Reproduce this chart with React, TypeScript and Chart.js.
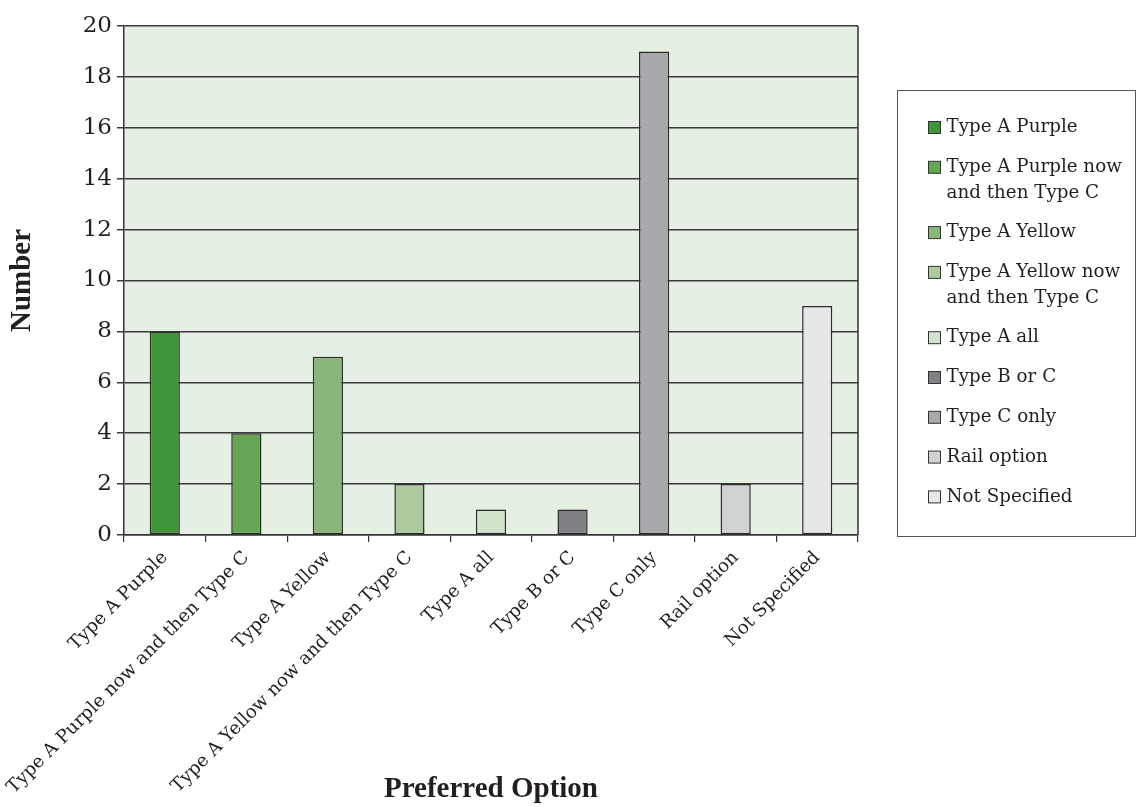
import React, { useEffect, useRef } from "react";
import { Chart, registerables } from "chart.js";

Chart.register(...registerables);

const categories = [
  "Type A Purple",
  "Type A Purple now and then Type C",
  "Type A Yellow",
  "Type A Yellow now and then Type C",
  "Type A all",
  "Type B or C",
  "Type C only",
  "Rail option",
  "Not Specified",
];
const values = [8, 4, 7, 2, 1, 1, 19, 2, 9];
const barColors = [
  "#3f9537",
  "#65a553",
  "#89b77b",
  "#abcb9f",
  "#d3e4cd",
  "#808184",
  "#a8a9ac",
  "#d1d2d4",
  "#e6e7e8",
];
const yMin = 0;
const yMax = 20;
const yStep = 2;
const xTitle = "Preferred Option";
const yTitle = "Number";

const W = 1137;
const H = 807;
const AREA_LEFT = 124;
const AREA_RIGHT = 858;
const AREA_BOTTOM = 535;
const AXIS_DARK = "#333333";

const backgroundPlugin = {
  id: "plotBackground",
  beforeDraw(chart: any) {
    const { ctx, chartArea } = chart;
    ctx.save();
    ctx.fillStyle = "#ffffff";
    ctx.fillRect(0, 0, chart.width, chart.height);
    ctx.fillStyle = "#e6efe3";
    ctx.fillRect(chartArea.left, chartArea.top, chartArea.right - chartArea.left, chartArea.bottom - chartArea.top);
    ctx.restore();
  },
  afterDraw(chart: any) {
    const { ctx, chartArea } = chart;
    ctx.save();
    ctx.strokeStyle = AXIS_DARK;
    ctx.lineWidth = 1.5;
    ctx.beginPath();
    ctx.moveTo(chartArea.right, chartArea.top);
    ctx.lineTo(chartArea.right, chartArea.bottom);
    ctx.stroke();
    ctx.restore();
  },
};

function wrapText(ctx: CanvasRenderingContext2D, text: string, maxWidth: number): string[] {
  const words = text.split(" ");
  const lines: string[] = [];
  let cur = "";
  for (const w of words) {
    const test = cur ? cur + " " + w : w;
    if (ctx.measureText(test).width > maxWidth && cur) {
      lines.push(cur);
      cur = w;
    } else {
      cur = test;
    }
  }
  if (cur) lines.push(cur);
  return lines;
}

const legendPlugin = {
  id: "boxLegend",
  afterDraw(chart: any) {
    const { ctx, chartArea } = chart;
    const labels: string[] = chart.data.labels;
    const colors: string[] = chart.data.datasets[0].backgroundColor;
    const boxLeft = chartArea.right + 39.5;
    const boxTop = 90.5;
    const boxRight = chart.width - 1.5;
    const boxBottom = 536.5;
    ctx.save();
    ctx.strokeStyle = "#555555";
    ctx.lineWidth = 1;
    ctx.strokeRect(boxLeft, boxTop, boxRight - boxLeft, boxBottom - boxTop);
    ctx.font = "18.3px 'DejaVu Serif'";
    ctx.textBaseline = "middle";
    ctx.textAlign = "left";
    let y = 127.5;
    labels.forEach((lab, i) => {
      const lines = wrapText(ctx, lab, 188);
      ctx.fillStyle = colors[i];
      ctx.fillRect(boxLeft + 31, y - 6, 12, 12);
      ctx.strokeStyle = "#333333";
      ctx.lineWidth = 1;
      ctx.strokeRect(boxLeft + 31, y - 6, 12, 12);
      ctx.fillStyle = "#231f20";
      lines.forEach((ln, j) => {
        ctx.fillText(ln, boxLeft + 49, y + j * 25.5);
      });
      y += (lines.length - 1) * 25.5 + 39.8;
    });
    ctx.restore();
  },
};

export default function App() {
  const canvasRef = useRef<HTMLCanvasElement | null>(null);

  useEffect(() => {
    if (!canvasRef.current) return;
    const chart = new Chart(canvasRef.current, {
      type: "bar",
      data: {
        labels: categories,
        datasets: [
          {
            data: values,
            backgroundColor: barColors,
            borderColor: "#2b2b2b",
            borderWidth: 1.5,
            borderSkipped: false,
            barPercentage: 0.37,
            categoryPercentage: 1,
          },
        ],
      },
      options: {
        animation: false,
        responsive: false,
        devicePixelRatio: 1,
        layout: {
          padding: { left: 0, right: W - AREA_RIGHT, top: 26, bottom: 0 },
        },
        plugins: {
          legend: { display: false },
          tooltip: { enabled: false },
        },
        scales: {
          x: {
            afterFit(scale: any) {
              scale.height = H - AREA_BOTTOM;
            },
            grid: {
              offset: true,
              drawOnChartArea: false,
              drawTicks: true,
              tickLength: 7,
              color: AXIS_DARK,
              lineWidth: 1.2,
            },
            border: { display: true, color: AXIS_DARK, width: 1.5 },
            ticks: {
              autoSkip: false,
              minRotation: 45,
              maxRotation: 45,
              padding: 5,
              color: "#231f20",
              font: { family: "'DejaVu Serif'", size: 18.3 },
            },
            title: {
              display: true,
              text: xTitle,
              color: "#231f20",
              font: { family: "'Liberation Serif'", size: 29, weight: "bold" },
              padding: { top: 0, bottom: 0 },
            },
          },
          y: {
            min: yMin,
            max: yMax,
            afterFit(scale: any) {
              scale.width = AREA_LEFT;
            },
            grid: {
              color: "#3a3a3a",
              lineWidth: 1.5,
              drawTicks: true,
              tickLength: 7,
            },
            border: { display: true, color: AXIS_DARK, width: 1.5 },
            ticks: {
              stepSize: yStep,
              padding: 5,
              color: "#231f20",
              font: { family: "'DejaVu Serif'", size: 23 },
            },
            title: {
              display: true,
              text: yTitle,
              color: "#231f20",
              font: { family: "'Liberation Serif'", size: 29, weight: "bold" },
              padding: { top: 5, bottom: 0 },
            },
          },
        },
      } as any,
      plugins: [backgroundPlugin, legendPlugin],
    });
    return () => chart.destroy();
  }, []);

  return (
    <div style={{ position: "fixed", left: 0, top: 0, width: W, height: H, background: "#fff" }}>
      <canvas ref={canvasRef} width={W} height={H} style={{ width: W, height: H, display: "block" }} />
    </div>
  );
}
